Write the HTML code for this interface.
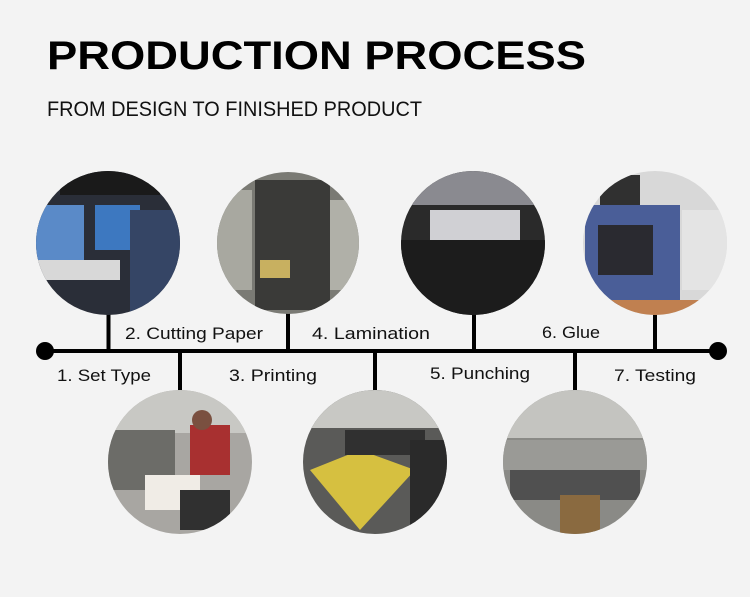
<!DOCTYPE html>
<html><head><meta charset="utf-8"><style>
html,body{margin:0;padding:0;background:#f3f3f3;}
svg{display:block}
text{font-family:"Liberation Sans",sans-serif}
</style></head><body>
<svg width="750" height="597" viewBox="0 0 750 597" xmlns="http://www.w3.org/2000/svg">
<defs>
<clipPath id="c1"><circle cx="108" cy="243" r="72"/></clipPath>
<clipPath id="c2"><circle cx="288" cy="243" r="71"/></clipPath>
<clipPath id="c3"><circle cx="473" cy="243" r="72"/></clipPath>
<clipPath id="c4"><circle cx="655" cy="243" r="72"/></clipPath>
<clipPath id="c5"><circle cx="180" cy="462" r="72"/></clipPath>
<clipPath id="c6"><circle cx="375" cy="462" r="72"/></clipPath>
<clipPath id="c7"><circle cx="575" cy="462" r="72"/></clipPath>
</defs>
<text x="47" y="69" font-size="40" font-weight="bold" textLength="539" lengthAdjust="spacingAndGlyphs" fill="#000">PRODUCTION PROCESS</text>
<text x="47" y="116" font-size="21" textLength="375" lengthAdjust="spacingAndGlyphs" fill="#111">FROM DESIGN TO FINISHED PRODUCT</text>

<g stroke="#000" stroke-width="4">
<line x1="45" y1="351" x2="718" y2="351"/>
<line x1="108.5" y1="310" x2="108.5" y2="351"/>
<line x1="288" y1="310" x2="288" y2="351"/>
<line x1="474" y1="310" x2="474" y2="351"/>
<line x1="655" y1="310" x2="655" y2="351"/>
<line x1="180" y1="351" x2="180" y2="395"/>
<line x1="375" y1="351" x2="375" y2="395"/>
<line x1="575" y1="351" x2="575" y2="395"/>
</g>
<circle cx="45" cy="351" r="9" fill="#000"/>
<circle cx="718" cy="351" r="9" fill="#000"/>

<g clip-path="url(#c1)">
<rect x="30" y="165" width="160" height="160" fill="#2a2e38"/>
<rect x="36" y="205" width="48" height="55" fill="#5a8ac8"/>
<rect x="95" y="205" width="45" height="45" fill="#3d78c0"/>
<rect x="30" y="260" width="90" height="20" fill="#d8d8d8"/>
<rect x="130" y="210" width="60" height="110" fill="#354565"/>
<rect x="60" y="170" width="100" height="25" fill="#1a1a1a"/>
</g>
<g clip-path="url(#c2)">
<rect x="210" y="165" width="160" height="160" fill="#7a7a74"/>
<rect x="255" y="180" width="75" height="130" fill="#3a3a38"/>
<rect x="217" y="190" width="35" height="100" fill="#a8a8a0"/>
<rect x="330" y="200" width="30" height="90" fill="#b0b0a8"/>
<rect x="260" y="260" width="30" height="18" fill="#c8b060"/>
</g>
<g clip-path="url(#c3)">
<rect x="400" y="165" width="150" height="160" fill="#2a2a2a"/>
<rect x="400" y="165" width="150" height="40" fill="#8a8a90"/>
<rect x="430" y="210" width="90" height="30" fill="#d0d0d4"/>
<rect x="400" y="240" width="150" height="80" fill="#1c1c1c"/>
</g>
<g clip-path="url(#c4)">
<rect x="580" y="165" width="150" height="160" fill="#d8d8d8"/>
<rect x="585" y="205" width="95" height="100" fill="#4a5e98"/>
<rect x="598" y="225" width="55" height="50" fill="#2a2a30"/>
<rect x="600" y="175" width="40" height="30" fill="#303030"/>
<rect x="682" y="210" width="50" height="80" fill="#e4e4e4"/>
<rect x="580" y="300" width="150" height="20" fill="#c08050"/>
</g>
<g clip-path="url(#c5)">
<rect x="105" y="388" width="150" height="150" fill="#a8a6a2"/>
<rect x="105" y="388" width="150" height="45" fill="#c8c8c4"/>
<rect x="105" y="430" width="70" height="60" fill="#6c6c68"/>
<rect x="145" y="475" width="55" height="35" fill="#f0ece6"/>
<rect x="190" y="425" width="40" height="50" fill="#a83030"/>
<circle cx="202" cy="420" r="10" fill="#7a5040"/>
<rect x="180" y="490" width="50" height="40" fill="#303030"/>
</g>
<g clip-path="url(#c6)">
<rect x="300" y="388" width="150" height="150" fill="#5a5a58"/>
<rect x="300" y="388" width="150" height="40" fill="#c8c8c4"/>
<polygon points="310,470 360,450 415,470 360,530" fill="#d6c040"/>
<rect x="345" y="430" width="80" height="25" fill="#303030"/>
<rect x="410" y="440" width="40" height="90" fill="#2a2a2a"/>
</g>
<g clip-path="url(#c7)">
<rect x="500" y="388" width="150" height="150" fill="#8a8a86"/>
<rect x="500" y="388" width="150" height="50" fill="#c4c4c0"/>
<rect x="510" y="470" width="130" height="30" fill="#505050"/>
<rect x="560" y="495" width="40" height="40" fill="#8a6a40"/>
<rect x="500" y="440" width="150" height="30" fill="#9a9a96"/>
</g>

<g font-size="17" fill="#111">
<text x="125" y="339" textLength="138" lengthAdjust="spacingAndGlyphs">2. Cutting Paper</text>
<text x="312" y="339" textLength="118" lengthAdjust="spacingAndGlyphs">4. Lamination</text>
<text x="542" y="338" textLength="58" lengthAdjust="spacingAndGlyphs">6. Glue</text>
<text x="57" y="381" textLength="94" lengthAdjust="spacingAndGlyphs">1. Set Type</text>
<text x="229" y="381" textLength="88" lengthAdjust="spacingAndGlyphs">3. Printing</text>
<text x="430" y="379" textLength="100" lengthAdjust="spacingAndGlyphs">5. Punching</text>
<text x="614" y="381" textLength="82" lengthAdjust="spacingAndGlyphs">7. Testing</text>
</g>
</svg>
</body></html>
